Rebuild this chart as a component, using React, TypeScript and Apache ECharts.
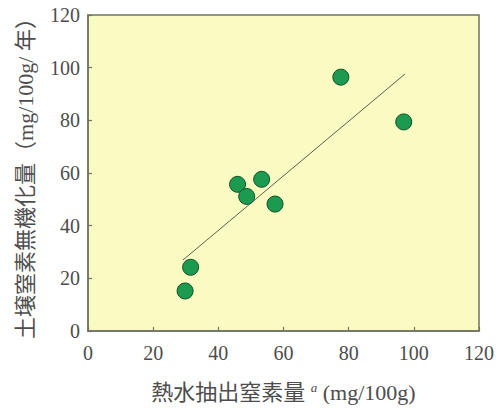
import React, { useEffect, useRef } from "react";
import * as echarts from "echarts";

const xValues = [77.6, 96.9, 45.9, 53.3, 48.7, 57.4, 31.5, 29.8];
const yValues = [96.4, 79.4, 55.7, 57.6, 51.1, 48.2, 24.2, 15.2];
const fitX = [29.1, 97.3];
const fitY = [26.9, 97.6];
const xTitle = "熱水抽出窒素量";
const xTitleSup = "a";
const xTitleUnit = "(mg/100g)";
const yTitle = "土壌窒素無機化量（mg/100g/ 年）";

export default function App() {
  const ref = useRef<HTMLDivElement>(null);
  useEffect(() => {
    document.body.style.margin = "0";
    const chart = echarts.init(ref.current!, null, { renderer: "svg" });
    const serif = "'Liberation Serif', 'Noto Sans CJK JP', serif";
    const textColor = "#4d4d4d";
    const axisColor = "#707262";
    chart.setOption({
      animation: false,
      backgroundColor: "#ffffff",
      grid: {
        left: 88,
        top: 15,
        right: 24,
        bottom: 66,
        show: true,
        backgroundColor: "#fafbc3",
        borderColor: axisColor,
        borderWidth: 1.5,
      },
      xAxis: {
        type: "value",
        min: 0,
        max: 120,
        interval: 20,
        name: `{t|${xTitle} }{s|${xTitleSup}}{t| ${xTitleUnit}}`,
        nameLocation: "middle",
        nameGap: 50,
        nameTextStyle: {
          rich: {
            t: { fontFamily: serif, fontSize: 22, color: textColor },
            s: { fontFamily: serif, fontSize: 13, fontStyle: "italic", color: textColor, verticalAlign: "top", padding: [0, 0, 8, 0] },
          },
        },
        axisLine: { show: true, lineStyle: { color: axisColor, width: 1.5 } },
        axisTick: { show: true, inside: true, length: 4, lineStyle: { color: axisColor, width: 1.2 } },
        axisLabel: { fontFamily: serif, fontSize: 20, color: textColor, margin: 12 },
        splitLine: { show: false },
      },
      yAxis: {
        type: "value",
        min: 0,
        max: 120,
        interval: 20,
        name: yTitle,
        nameLocation: "middle",
        nameGap: 52,
        nameTextStyle: { fontFamily: serif, fontSize: 22, color: textColor },
        axisLine: { show: true, lineStyle: { color: axisColor, width: 1.5 } },
        axisTick: { show: true, inside: true, length: 4, lineStyle: { color: axisColor, width: 1.2 } },
        axisLabel: { fontFamily: serif, fontSize: 20, color: textColor, margin: 8 },
        splitLine: { show: false },
      },
      series: [
        {
          type: "line",
          data: fitX.map((x, i) => [x, fitY[i]]),
          symbol: "none",
          lineStyle: { color: "#5e5f50", width: 1 },
          z: 1,
        },
        {
          type: "scatter",
          data: xValues.map((x, i) => [x, yValues[i]]),
          symbolSize: 16,
          itemStyle: { color: "#1c9a4f", borderColor: "#0f4f2a", borderWidth: 1, opacity: 1 },
          z: 2,
        },
      ],
    });
    return () => chart.dispose();
  }, []);
  return <div ref={ref} style={{ width: 503, height: 408 }} />;
}
